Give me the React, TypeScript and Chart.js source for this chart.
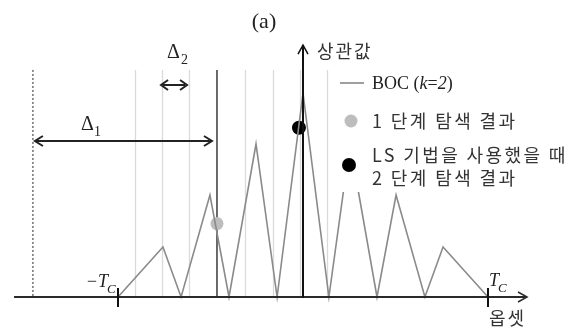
import React, { useEffect, useRef } from "react";
import { Chart, registerables } from "chart.js";

Chart.register(...registerables);

// ---- data (offset in chips, normalized correlation) ----
const offsets = [-1, -0.757, -0.659, -0.503, -0.4, -0.254, -0.14, 0, 0.14, 0.254, 0.4, 0.503, 0.659, 0.757, 1];
const bocValues = [0, 0.245, 0, 0.5, 0, 0.75, 0, 1, 0, 0.75, 0, 0.5, 0, 0.245, 0];
const stage1Offsets = [-0.465];
const stage1Values = [0.36];
const stage2Offsets = [-0.022];
const stage2Values = [0.83];
const fineGrid = [-0.908, -0.762, -0.616, -0.314, -0.162, -0.016, 0.13];
const coarseLine = [-0.465];
const searchStart = [-1.46];
const chipTicks = [-1, 1];
const chipTickLabels = ["−T", "T"];
const legendLabels = ["BOC (k=2)", "1 단계 탐색 결과", "LS 기법을 사용했을 때", "2 단계 탐색 결과"];
const title = "(a)";
const yTitle = "상관값";
const xTitle = "옵셋";

const SERIF = '"Liberation Serif", "DejaVu Serif", serif';
const KR = '"Noto Sans CJK KR", sans-serif';

const GRID_TOP = 1.113;
const Y_AXIS_TOP = 1.235;
const X_AXIS_START = -1.562;
const X_AXIS_END = 1.211;

function chevron(ctx: CanvasRenderingContext2D, x: number, y: number, dx: number, dy: number, len: number, half: number) {
  const px = -dy, py = dx;
  ctx.beginPath();
  ctx.moveTo(x - dx * len + px * half, y - dy * len + py * half);
  ctx.lineTo(x, y);
  ctx.lineTo(x - dx * len - px * half, y - dy * len - py * half);
  ctx.stroke();
}

const overlay = {
  id: "overlay",
  beforeDatasetsDraw(chart: any) {
    const ctx: CanvasRenderingContext2D = chart.ctx;
    const X = (t: number) => chart.scales.x.getPixelForValue(t);
    const Y = (v: number) => chart.scales.y.getPixelForValue(v);
    const top = Y(GRID_TOP);
    const base = Y(0);
    ctx.save();
    ctx.strokeStyle = "#dadada";
    ctx.lineWidth = 1.3;
    fineGrid.forEach((t) => {
      ctx.beginPath();
      ctx.moveTo(Math.round(X(t)) + 0.5, top);
      ctx.lineTo(Math.round(X(t)) + 0.5, base);
      ctx.stroke();
    });
    ctx.strokeStyle = "#777";
    ctx.lineWidth = 1.6;
    ctx.setLineDash([2, 2]);
    searchStart.forEach((t) => {
      ctx.beginPath();
      ctx.moveTo(X(t), top);
      ctx.lineTo(X(t), base);
      ctx.stroke();
    });
    ctx.setLineDash([]);
    ctx.strokeStyle = "#3a3a3a";
    ctx.lineWidth = 1.5;
    coarseLine.forEach((t) => {
      ctx.beginPath();
      ctx.moveTo(X(t), top);
      ctx.lineTo(X(t), base);
      ctx.stroke();
    });
    ctx.restore();
  },
  afterDatasetsDraw(chart: any) {
    const ctx: CanvasRenderingContext2D = chart.ctx;
    const X = (t: number) => chart.scales.x.getPixelForValue(t);
    const Y = (v: number) => chart.scales.y.getPixelForValue(v);
    const base = Y(0);
    ctx.save();
    // x axis
    ctx.strokeStyle = "#2a2a2a";
    ctx.lineWidth = 1.8;
    ctx.beginPath();
    ctx.moveTo(X(X_AXIS_START), base);
    ctx.lineTo(X(X_AXIS_END), base);
    ctx.stroke();
    ctx.lineWidth = 1.5;
    chevron(ctx, X(X_AXIS_END), base, 1, 0, 9, 5);
    // y axis
    ctx.strokeStyle = "#111";
    ctx.lineWidth = 2;
    ctx.beginPath();
    ctx.moveTo(X(0), base + 1);
    ctx.lineTo(X(0), Y(Y_AXIS_TOP));
    ctx.stroke();
    ctx.lineWidth = 1.5;
    chevron(ctx, X(0), Y(Y_AXIS_TOP), 0, -1, 9, 5);
    // chip ticks
    ctx.strokeStyle = "#111";
    ctx.lineWidth = 2;
    chipTicks.forEach((t) => {
      ctx.beginPath();
      ctx.moveTo(X(t), base - 9);
      ctx.lineTo(X(t), base + 10);
      ctx.stroke();
    });
    // chip tick labels
    ctx.fillStyle = "#222";
    ctx.textBaseline = "alphabetic";
    chipTicks.forEach((t, i) => {
      const lbl = chipTickLabels[i];
      ctx.font = `italic 18px ${SERIF}`;
      const w = ctx.measureText(lbl).width;
      const xT = t < 0 ? X(t) - w - 10 : X(t) + 1;
      const yT = t < 0 ? base - 10 : base - 11;
      ctx.textAlign = "left";
      ctx.fillText(lbl, xT, yT);
      ctx.font = `italic 13px ${SERIF}`;
      ctx.fillText("C", xT + w - 1, yT + 6);
    });
    // axis titles
    ctx.font = `18px ${KR}`;
    (ctx as any).letterSpacing = "2px";
    ctx.textAlign = "left";
    ctx.textBaseline = "middle";
    ctx.fillStyle = "#333";
    ctx.fillText(yTitle, X(0) + 14, Y(Y_AXIS_TOP) + 6);
    ctx.fillText(xTitle, X(chipTicks[1]) + 1, base + 21);
    (ctx as any).letterSpacing = "0px";
    // title
    ctx.font = `22px ${SERIF}`;
    ctx.textAlign = "center";
    ctx.fillStyle = "#222";
    ctx.fillText(title, 264, 22);

    // delta arrows
    ctx.strokeStyle = "#222";
    ctx.lineWidth = 2;
    const d1y = 141;
    const d1a = X(searchStart[0]) + 2;
    const d1b = X(coarseLine[0]) - 5;
    ctx.beginPath();
    ctx.moveTo(d1a, d1y);
    ctx.lineTo(d1b, d1y);
    ctx.stroke();
    chevron(ctx, d1a, d1y, -1, 0, 8, 5);
    chevron(ctx, d1b, d1y, 1, 0, 8, 5);
    const d2y = 85;
    const d2a = X(fineGrid[1]) - 1;
    const d2b = X(fineGrid[2]) - 2;
    ctx.lineWidth = 2;
    ctx.beginPath();
    ctx.moveTo(d2a + 2, d2y);
    ctx.lineTo(d2b - 2, d2y);
    ctx.stroke();
    chevron(ctx, d2a, d2y, -1, 0, 7, 5);
    chevron(ctx, d2b, d2y, 1, 0, 7, 5);
    // delta labels
    ctx.fillStyle = "#222";
    ctx.textAlign = "left";
    ctx.textBaseline = "alphabetic";
    ctx.font = `20px ${SERIF}`;
    ctx.fillText("Δ", 81, 130);
    ctx.fillText("Δ", 167, 58);
    ctx.font = `14px ${SERIF}`;
    ctx.fillText("1", 94, 136);
    ctx.fillText("2", 181, 64);

    // legend
    ctx.fillStyle = "#fff";
    ctx.fillRect(334, 68, 244, 124);
    ctx.strokeStyle = "#888";
    ctx.lineWidth = 1.6;
    ctx.beginPath();
    ctx.moveTo(340, 83);
    ctx.lineTo(364, 83);
    ctx.stroke();
    ctx.fillStyle = "#222";
    ctx.textAlign = "left";
    ctx.textBaseline = "middle";
    const parts: [string, boolean][] = [["BOC (", false], ["k", true], ["=", false], ["2", true], [")", false]];
    let xx = 372;
    parts.forEach(([s, it]) => {
      ctx.font = `${it ? "italic " : ""}18px ${SERIF}`;
      ctx.fillText(s, xx, 84);
      xx += ctx.measureText(s).width;
    });

    ctx.fillStyle = "#bdbdbd";
    ctx.beginPath();
    ctx.arc(351, 121, 6.5, 0, Math.PI * 2);
    ctx.fill();
    ctx.fillStyle = "#000";
    ctx.beginPath();
    ctx.arc(349, 165, 7, 0, Math.PI * 2);
    ctx.fill();

    ctx.fillStyle = "#333";
    ctx.font = `18px ${KR}`;
    (ctx as any).letterSpacing = "2.4px";
    ctx.fillText(legendLabels[1], 372, 121);
    ctx.fillText(legendLabels[2], 372, 155);
    ctx.fillText(legendLabels[3], 372, 178);
    ctx.restore();
  },
};

export default function App() {
  const ref = useRef<HTMLCanvasElement>(null);
  useEffect(() => {
    if (!ref.current) return;
    const chart = new Chart(ref.current, {
      type: "scatter",
      data: {
        datasets: [
          {
            label: legendLabels[0],
            data: offsets.map((x, i) => ({ x, y: bocValues[i] })),
            showLine: true,
            borderColor: "#8a8a8a",
            borderWidth: 1.6,
            pointRadius: 0,
            fill: false,
          },
          {
            label: legendLabels[1],
            data: stage1Offsets.map((x, i) => ({ x, y: stage1Values[i] })),
            pointRadius: 6.5,
            backgroundColor: "#bdbdbd",
            borderWidth: 0,
          },
          {
            label: legendLabels[2],
            data: stage2Offsets.map((x, i) => ({ x, y: stage2Values[i] })),
            pointRadius: 7,
            backgroundColor: "#000",
            borderWidth: 0,
          },
        ],
      },
      options: {
        animation: false,
        responsive: false,
        devicePixelRatio: 1,
        layout: { padding: { left: 7, right: 16, top: 20, bottom: 10 } },
        plugins: { legend: { display: false }, tooltip: { enabled: false }, title: { display: false } },
        scales: {
          x: { type: "linear", min: -1.6, max: 1.4, display: false },
          y: { type: "linear", min: -0.1078, max: 1.3578, display: false },
        },
      },
      plugins: [overlay],
    });
    return () => chart.destroy();
  }, []);
  return (
    <div style={{ position: "fixed", left: 0, top: 0, width: 578, height: 329, background: "#fff" }}>
      <canvas ref={ref} width={578} height={329} />
    </div>
  );
}
